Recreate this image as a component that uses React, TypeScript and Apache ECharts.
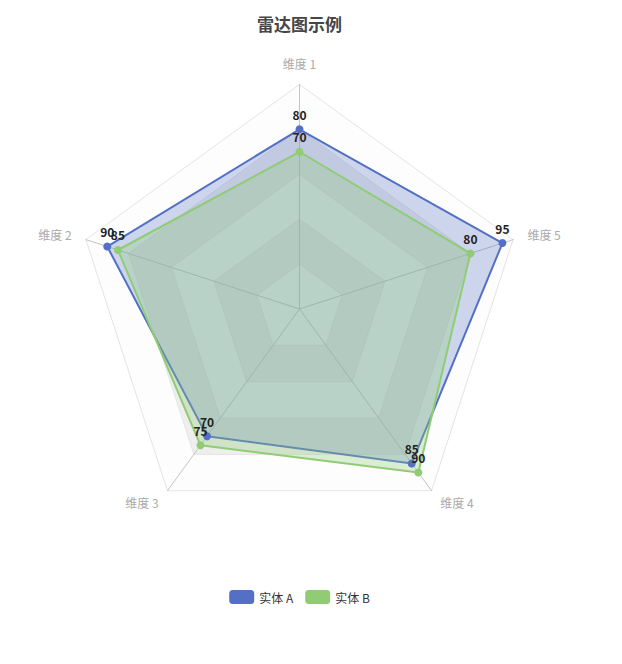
import { useEffect, useRef } from 'react'
import * as echarts from 'echarts'

const indicators = ['维度 1', '维度 2', '维度 3', '维度 4', '维度 5']
const maxValues = [100, 100, 100, 100, 100]
const seriesNames = ['实体 A', '实体 B']
const valuesA = [80, 90, 70, 85, 95]
const valuesB = [70, 85, 75, 90, 80]

export default function App() {
  const chartRef = useRef<HTMLDivElement | null>(null)

  useEffect(() => {
    if (!chartRef.current) return
    document.body.style.margin = '0'

    const chart = echarts.init(chartRef.current, undefined, { renderer: 'svg' })
    const font = '"Noto Sans CJK SC", "Noto Sans", sans-serif'

    const option: echarts.EChartsOption = {
      animation: false,
      backgroundColor: '#fff',
      textStyle: { fontFamily: font },
      title: {
        text: '雷达图示例',
        left: 'center',
        top: 10,
        textStyle: { fontSize: 17, fontWeight: 'bold', color: '#464646', fontFamily: font }
      },
      legend: {
        data: seriesNames,
        bottom: 9,
        left: 'center',
        itemWidth: 25,
        itemHeight: 14,
        itemGap: 12,
        textStyle: { color: '#333', fontSize: 12 }
      },
      radar: {
        center: ['50%', '50%'],
        radius: '75%',
        splitNumber: 5,
        indicator: indicators.map((name, i) => ({ name, max: maxValues[i] })),
        axisName: { color: '#aaa', fontSize: 12 },
        nameGap: 15,
        axisLine: { lineStyle: { color: '#c4c4c4' } },
        splitLine: { lineStyle: { color: '#e4e4e4' } },
        splitArea: {
          areaStyle: { color: ['rgba(250,250,250,0.3)', 'rgba(200,200,200,0.3)'] }
        }
      },
      series: [
        {
          type: 'radar',
          symbolSize: 8,
          label: {
            show: true,
            position: 'top',
            fontWeight: 'bold',
            fontSize: 12,
            color: '#222'
          },
          data: [
            {
              name: seriesNames[0],
              value: valuesA,
              itemStyle: { color: '#5470c6' },
              lineStyle: { width: 2, color: '#5470c6' },
              areaStyle: { color: 'rgba(84,112,198,0.4)' }
            },
            {
              name: seriesNames[1],
              value: valuesB,
              itemStyle: { color: '#91cc75' },
              lineStyle: { width: 2, color: '#91cc75' },
              areaStyle: { color: 'rgba(145,204,117,0.45)' }
            }
          ]
        }
      ]
    }

    chart.setOption(option)

    return () => {
      chart.dispose()
    }
  }, [])

  return <div ref={chartRef} style={{ width: 599, height: 618 }} />
}
